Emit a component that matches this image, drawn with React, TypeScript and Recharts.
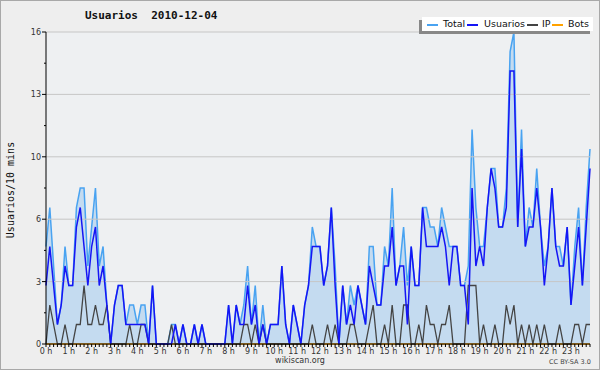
import React from "react";
import {
  ComposedChart,
  Area,
  Line,
  XAxis,
  YAxis,
  CartesianGrid,
  ReferenceLine,
  Legend,
} from "recharts";

// one value every 10 minutes, 00:00 .. 23:50
const total = [
  5, 7, 4, 1, 2, 5, 3, 3, 7, 8, 8, 4,
  6, 8, 4, 5, 2, 0, 2, 3, 3, 1, 2, 2,
  1, 2, 2, 0, 3, 0, 0, 0, 0, 1, 1, 0,
  1, 0, 0, 1, 0, 1, 0, 0, 0, 0, 0, 0,
  2, 0, 2, 1, 2, 4, 1, 3, 0, 2, 0, 1,
  1, 1, 4, 1, 0, 2, 1, 0, 2, 3, 6, 5,
  5, 3, 4, 7, 4, 0, 3, 1, 3, 2, 3, 2,
  1, 5, 5, 2, 2, 5, 4, 8, 3, 4, 6, 3,
  5, 3, 3, 7, 7, 6, 6, 5, 7, 6, 5, 5,
  5, 3, 3, 4, 11, 7, 5, 5, 7, 9, 9, 6,
  6, 8, 15, 16, 6, 11, 5, 7, 6, 9, 6, 4,
  5, 8, 5, 5, 4, 6, 2, 5, 7, 3, 7, 10,
];

const usuarios = [
  3, 5, 3, 1, 2, 4, 3, 3, 6, 7, 5, 3,
  5, 6, 3, 4, 2, 0, 2, 3, 3, 1, 1, 1,
  1, 1, 1, 0, 3, 0, 0, 0, 0, 0, 1, 0,
  1, 0, 0, 1, 0, 1, 0, 0, 0, 0, 0, 0,
  2, 0, 2, 1, 1, 3, 1, 2, 0, 1, 0, 1,
  1, 1, 4, 1, 0, 2, 1, 0, 2, 3, 5, 5,
  5, 3, 4, 7, 3, 0, 3, 1, 2, 1, 3, 2,
  1, 4, 3, 2, 2, 4, 4, 6, 3, 4, 4, 1,
  5, 3, 3, 7, 5, 5, 5, 5, 6, 5, 3, 5,
  5, 3, 3, 1, 8, 4, 5, 4, 7, 9, 8, 6,
  6, 7, 14, 14, 6, 10, 5, 6, 6, 8, 6, 3,
  5, 8, 5, 4, 4, 6, 2, 4, 6, 3, 6, 9,
];

const ip = [
  0, 2, 1, 0, 0, 1, 0, 0, 1, 1, 3, 1,
  1, 2, 1, 1, 2, 0, 0, 0, 0, 0, 1, 0,
  0, 1, 1, 0, 0, 0, 0, 0, 0, 1, 0, 0,
  0, 0, 0, 0, 0, 0, 0, 0, 0, 0, 0, 0,
  0, 0, 0, 0, 1, 1, 0, 1, 0, 1, 0, 0,
  0, 0, 0, 0, 0, 0, 0, 0, 0, 0, 1, 0,
  0, 0, 1, 0, 1, 0, 0, 0, 1, 1, 0, 0,
  0, 1, 2, 0, 0, 1, 0, 2, 0, 0, 2, 2,
  0, 0, 1, 0, 2, 1, 1, 0, 1, 1, 2, 0,
  0, 0, 0, 3, 3, 3, 0, 1, 0, 0, 1, 0,
  0, 2, 1, 2, 0, 1, 0, 1, 0, 1, 0, 1,
  0, 0, 0, 1, 0, 0, 0, 1, 1, 0, 1, 1,
];

const bots = [
  0, 0, 0, 0, 0, 0, 0, 0, 0, 0, 0, 0,
  0, 0, 0, 0, 0, 0, 0, 0, 0, 0, 0, 0,
  0, 0, 0, 0, 0, 0, 0, 0, 0, 0, 0, 0,
  0, 0, 0, 0, 0, 0, 0, 0, 0, 0, 0, 0,
  0, 0, 0, 0, 0, 0, 0, 0, 0, 0, 0, 0,
  0, 0, 0, 0, 0, 0, 0, 0, 0, 0, 0, 0,
  0, 0, 0, 0, 0, 0, 0, 0, 0, 0, 0, 0,
  0, 0, 0, 0, 0, 0, 0, 0, 0, 0, 0, 0,
  0, 0, 0, 0, 0, 0, 0, 0, 0, 0, 0, 0,
  0, 0, 0, 0, 0, 0, 0, 0, 0, 0, 0, 0,
  0, 0, 0, 0, 0, 0, 0, 0, 0, 0, 0, 0,
  0, 0, 0, 0, 0, 0, 0, 0, 0, 0, 0, 0,
];

const hourLabels = [
  "0 h", "1 h", "2 h", "3 h", "4 h", "5 h", "6 h", "7 h",
  "8 h", "9 h", "10 h", "11 h", "12 h", "13 h", "14 h", "15 h",
  "16 h", "17 h", "18 h", "19 h", "20 h", "21 h", "22 h", "23 h",
];

const yTicks = [0, 1.6, 3.2, 4.8, 6.4, 8, 9.6, 11.2, 12.8, 14.4, 16];
const yLabels = ["0", "3", "6", "10", "13", "16"];
const gridValues = [3.2, 6.4, 9.6, 12.8, 16];

const data = total.map((t, i) => ({
  i,
  total: t,
  usuarios: usuarios[i],
  ip: ip[i],
  bots: bots[i],
}));

const xTicks = data.map((d) => d.i);

const tickFont = "'DejaVu Sans', sans-serif";

const XTick = (props: any) => {
  const { x, y, payload } = props;
  const i = payload.value;
  const major = i % 6 === 0;
  return (
    <g>
      <line x1={x} x2={x} y1={y} y2={y + 3} stroke="#000" />
      {major && (
        <text x={x} y={y + 9.5} textAnchor="middle" fontSize={8} fontFamily={tickFont} fill="#333">
          {hourLabels[i / 6]}
        </text>
      )}
    </g>
  );
};

const YTick = (props: any) => {
  const { x, y, index } = props;
  const major = index % 2 === 0;
  return (
    <g>
      <line x1={x - (major ? 4 : 2)} x2={x} y1={y} y2={y} stroke="#000" />
      {major && (
        <text x={x - 5} y={y + 3} textAnchor="end" fontSize={8} fontFamily={tickFont} fill="#333">
          {yLabels[index / 2]}
        </text>
      )}
    </g>
  );
};

const legendItems = [
  { name: "Total", color: "#49a3f1", line: 5, text: 21 },
  { name: "Usuarios", color: "#1515f5", line: 45, text: 62 },
  { name: "IP", color: "#444", line: 105, text: 120 },
  { name: "Bots", color: "#ffa200", line: 130, text: 146 },
];

const renderLegend = () => (
  <div
    style={{
      position: "relative",
      width: 171,
      height: 14,
      background: "#fff",
      boxShadow: "-3px 3px 0 #888",
      fontFamily: tickFont,
      fontSize: 9.5,
      color: "#111",
    }}
  >
    {legendItems.map((it) => (
      <React.Fragment key={it.name}>
        <span
          style={{
            position: "absolute",
            left: it.line,
            top: 7,
            width: 11,
            height: 1.5,
            background: it.color,
          }}
        />
        <span style={{ position: "absolute", left: it.text, top: 1, lineHeight: "12px" }}>
          {it.name}
        </span>
      </React.Fragment>
    ))}
  </div>
);

export default function App() {
  return (
    <div
      style={{
        position: "absolute",
        left: 0,
        top: 0,
        width: 600,
        height: 370,
        background: "#eeeeee",
        boxShadow: "inset 0 0 0 1px #a8a8a8",
      }}
    >
      <div
        style={{
          position: "absolute",
          left: 85,
          top: 9,
          fontFamily: "'DejaVu Sans Mono', monospace",
          fontWeight: "bold",
          fontSize: 11,
          whiteSpace: "pre",
          color: "#111",
        }}
      >
        Usuarios  2010-12-04
      </div>
      <div
        style={{
          position: "absolute",
          left: 10,
          top: 190,
          transform: "translate(-50%, -50%) rotate(-90deg)",
          fontFamily: "'DejaVu Sans Mono', monospace",
          fontSize: 10,
          whiteSpace: "pre",
          color: "#111",
        }}
      >
        Usuarios/10 mins
      </div>
      <div
        style={{
          position: "absolute",
          left: 300,
          top: 356,
          transform: "translateX(-50%)",
          fontFamily: tickFont,
          fontSize: 8,
          color: "#333",
        }}
      >
        wikiscan.org
      </div>
      <div
        style={{
          position: "absolute",
          left: 549,
          top: 358,
          fontFamily: tickFont,
          fontSize: 6.5,
          color: "#444",
        }}
      >
        CC BY-SA 3.0
      </div>
      <ComposedChart
        width={600}
        height={370}
        data={data}
        margin={{ top: 32, right: 10, bottom: 0, left: 0 }}
      >
        <CartesianGrid fill="#eef0f2" horizontal={false} vertical={false} />
        <XAxis
          dataKey="i"
          type="number"
          domain={[0, 143]}
          ticks={xTicks}
          interval={0}
          height={26}
          tickSize={0}
          tickMargin={0}
          tickLine={false}
          tick={<XTick />}
          axisLine={{ stroke: "#000" }}
        />
        <YAxis
          type="number"
          domain={[0, 16]}
          ticks={yTicks}
          interval={0}
          width={46}
          tickSize={0}
          tickMargin={0}
          tickLine={false}
          tick={<YTick />}
          axisLine={{ stroke: "#000" }}
        />
        <Legend
          content={renderLegend}
          layout="vertical"
          align="center"
          verticalAlign="middle"
          wrapperStyle={{ left: 422, top: 17, width: 171, height: 14 }}
        />
        <Area
          dataKey="total"
          name="Total"
          type="linear"
          stroke="#49a3f1"
          strokeWidth={1.5}
          fill="#c4dbf0"
          fillOpacity={1}
          dot={false}
          isAnimationActive={false}
        />
        {gridValues.map((v) => (
          <ReferenceLine key={v} y={v} stroke="#c6c6c6" strokeWidth={1} />
        ))}
        <Line dataKey="bots" name="Bots" type="linear" stroke="#ffa200" strokeWidth={1.5} dot={false} isAnimationActive={false} />
        <Line dataKey="ip" name="IP" type="linear" stroke="#444" strokeWidth={1.3} dot={false} isAnimationActive={false} />
        <Line dataKey="usuarios" name="Usuarios" type="linear" stroke="#1515f5" strokeWidth={1.5} dot={false} isAnimationActive={false} />
      </ComposedChart>
    </div>
  );
}
